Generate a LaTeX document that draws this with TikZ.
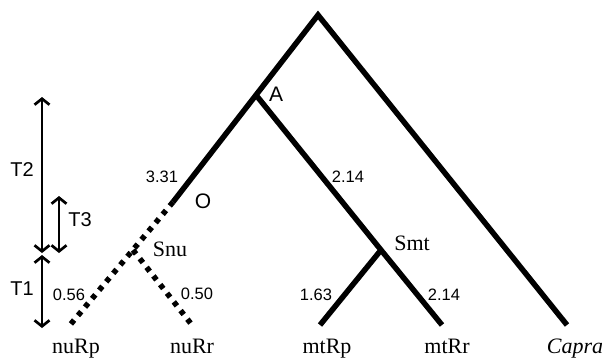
\documentclass[tikz,border=0pt]{standalone}
\usepackage{fontspec}
\setmainfont{Liberation Serif}
\newfontfamily\lblsans{Liberation Sans}
\usetikzlibrary{arrows.meta}

\tikzset{
  branch/.style={line width=5.5pt},
  nubranch/.style={line width=5.5pt, dash pattern=on 5pt off 6pt},
  timearrow/.style={line width=2.7pt, {Straight Barb[length=6pt,width=15pt]}-{Straight Barb[length=6pt,width=15pt]}},
  taxon/.style={font=\fontsize{22}{24}\selectfont, anchor=base},
  blen/.style={font=\lblsans\fontsize{16.5}{18}\selectfont, inner sep=0pt},
  tlabel/.style={font=\lblsans\fontsize{20}{22}\selectfont, inner sep=0pt}
}

\begin{document}
\begin{tikzpicture}[x=1pt, y=-1pt]
  \useasboundingbox (0,0) rectangle (602,360);

  % 内部节点
  \coordinate (root) at (318,15);
  \coordinate (A) at (256,95);
  \coordinate (O) at (173,202);
  \coordinate (Snu) at (133,250);
  \coordinate (Smt) at (381,250);

  % 末端
  \coordinate (nuRp) at (70,325);
  \coordinate (nuRr) at (192,325);
  \coordinate (mtRp) at (320,325);
  \coordinate (mtRr) at (442,325);
  \coordinate (Capra) at (567,325);

  % 实线分支
  \draw[branch] (Capra) -- (root) -- (A) -- (O);
  \draw[branch] (A) -- (Smt) -- (mtRr);
  \draw[branch] (Smt) -- (mtRp);

  % 虚线分支
  \draw[nubranch] (O) -- (nuRp);
  \draw[nubranch] (Snu) -- (nuRr);

  % 物种名
  \node[taxon] (lnuRp) at (76,353) {nuRp};
  \node[taxon] (lnuRr) at (192,353) {nuRr};
  \node[taxon] (lmtRp) at (327,353) {mtRp};
  \node[taxon] (lmtRr) at (447,353) {mtRr};
  \node[taxon] (lCapra) at (575,353) {\itshape Capra};

  % 节点标记
  \node[tlabel, font=\lblsans\fontsize{21}{22}\selectfont] (lA) at (276,94) {A};
  \node[tlabel, font=\lblsans\fontsize{21}{22}\selectfont] (lO) at (203,201) {O};
  \node[taxon, anchor=center] (lSnu) at (170,249) {Snu};
  \node[taxon, anchor=center] (lSmt) at (412,243) {Smt};

  % 分支长度
  \node[blen] (b331) at (162,177) {3.31};
  \node[blen] (b214a) at (348,177) {2.14};
  \node[blen] (b056) at (69,295) {0.56};
  \node[blen] (b050) at (197,294) {0.50};
  \node[blen] (b163) at (316,295) {1.63};
  \node[blen] (b214b) at (444,295) {2.14};

  % 时间箭头
  \coordinate (t2a) at (42,97);
  \coordinate (t2b) at (42,253);
  \coordinate (t1a) at (42,255);
  \coordinate (t1b) at (42,328);
  \coordinate (t3a) at (59,196);
  \coordinate (t3b) at (59,253);
  \draw[timearrow] (t2a) -- (t2b);
  \draw[timearrow] (t1a) -- (t1b);
  \draw[timearrow] (t3a) -- (t3b);
  \node[tlabel] (lT2) at (22,170) {T2};
  \node[tlabel] (lT3) at (80,220) {T3};
  \node[tlabel] (lT1) at (22,289) {T1};
\end{tikzpicture}
\end{document}
